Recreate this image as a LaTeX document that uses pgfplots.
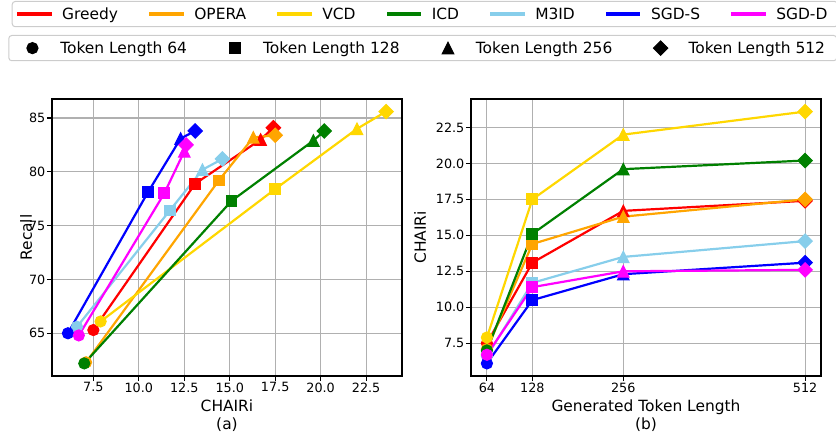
\documentclass[border=0pt]{standalone}
\usepackage{pgfplots}
\usepackage{pgfplotstable}
\pgfplotsset{compat=1.18}
\usepackage{fontspec}
\setmainfont{DejaVu Sans}
\definecolor{cGreedy}{HTML}{FF0000}
\definecolor{cOPERA}{HTML}{FFA500}
\definecolor{cVCD}{HTML}{FFD700}
\definecolor{cICD}{HTML}{008000}
\definecolor{cMID}{HTML}{87CEEB}
\definecolor{cSGDS}{HTML}{0000FF}
\definecolor{cSGDD}{HTML}{FF00FF}
\definecolor{gridc}{HTML}{B0B0B0}
\definecolor{legframe}{HTML}{CCCCCC}

\pgfdeclareplotmark{mtri}{%
  \pgfpathmoveto{\pgfqpoint{0pt}{\pgfplotmarksize}}%
  \pgfpathlineto{\pgfqpoint{\pgfplotmarksize}{-\pgfplotmarksize}}%
  \pgfpathlineto{\pgfqpoint{-\pgfplotmarksize}{-\pgfplotmarksize}}%
  \pgfpathclose\pgfusepathqfillstroke}
\pgfdeclareplotmark{mdia}{%
  \pgfpathmoveto{\pgfqpoint{0pt}{\pgfplotmarksize}}%
  \pgfpathlineto{\pgfqpoint{\pgfplotmarksize}{0pt}}%
  \pgfpathlineto{\pgfqpoint{0pt}{-\pgfplotmarksize}}%
  \pgfpathlineto{\pgfqpoint{-\pgfplotmarksize}{0pt}}%
  \pgfpathclose\pgfusepathqfillstroke}

% columns: generated token length, CHAIRi, Recall, marker class
\pgfplotstableread{
len chair recall cls
64  7.5  65.3 a
128 13.1 78.9 b
256 16.7 83.0 c
512 17.4 84.1 d
}\tGreedy
\pgfplotstableread{
len chair recall cls
64  7.1  62.3 a
128 14.4 79.2 b
256 16.3 83.2 c
512 17.5 83.4 d
}\tOPERA
\pgfplotstableread{
len chair recall cls
64  7.9  66.1 a
128 17.5 78.4 b
256 22.0 84.0 c
512 23.6 85.6 d
}\tVCD
\pgfplotstableread{
len chair recall cls
64  7.0  62.2 a
128 15.1 77.3 b
256 19.6 82.9 c
512 20.2 83.8 d
}\tICD
\pgfplotstableread{
len chair recall cls
64  6.6  65.6 a
128 11.7 76.4 b
256 13.5 80.2 c
512 14.6 81.2 d
}\tMID
\pgfplotstableread{
len chair recall cls
64  6.1  65.0 a
128 10.5 78.1 b
256 12.3 83.1 c
512 13.1 83.8 d
}\tSGDS
\pgfplotstableread{
len chair recall cls
64  6.7  64.8 a
128 11.4 78.0 b
256 12.5 81.9 c
512 12.6 82.5 d
}\tSGDD

\pgfplotsset{
  meth/.style={color=#1, line width=2.2bp, forget plot, scatter,
    point meta=explicit symbolic,
    mark options={line width=1bp, solid, fill=#1, draw=#1},
    scatter/classes={
      a={mark=*, mark size=5.6bp, #1},
      b={mark=square*, mark size=5.4bp, #1},
      c={mark=mtri, mark size=5.8bp, #1},
      d={mark=mdia, mark size=7.2bp, #1}}},
  myax/.style={
    scale only axis, width=350bp, height=277bp,
    axis line style={line width=1.2bp, black},
    grid=major, grid style={line width=1.1bp, color=gridc},
    tick align=outside, major tick length=5bp,
    tick style={line width=1.1bp, black},
    xtick pos=left, ytick pos=left,
    ticklabel style={font=\fontsize{12.8}{15}\selectfont},
    xticklabel style={inner sep=1.5bp},
    yticklabel style={inner sep=1.5bp},
    label style={font=\fontsize{15.5}{18.6}\selectfont},
    /pgf/number format/assume math mode=true,
    legend cell align=left,
  },
  legbase/.style={
    draw=legframe, line width=1bp, rounded corners=3bp, fill=white,
    font=\fontsize{15.5}{18.6}\selectfont,
    inner xsep=5bp, inner ysep=4bp,
    nodes={inner xsep=5.2bp, inner ysep=2bp},
    /tikz/every odd column/.append style={column sep=5.5bp},
    /tikz/every even column/.append style={column sep=26bp},
  },
}

\begin{document}
\begin{tikzpicture}
\begin{axis}[myax,
  at={(52bp,56bp)}, anchor=south west,
  xmin=5.225, xmax=24.475, ymin=61.03, ymax=86.77,
  xtick={7.5,10,12.5,15,17.5,20,22.5},
  ytick={65,70,75,80,85},
  xticklabel style={/pgf/number format/.cd, fixed, fixed zerofill, precision=1},
  yticklabel style={/pgf/number format/.cd, fixed, precision=0},
  xlabel={CHAIRi\\(a)},
  xlabel style={at={(axis description cs:0.5,-0.0848)}, anchor=north, align=center, inner sep=0pt},
  ylabel={Recall},
  ylabel style={at={(axis description cs:-0.0743,0.5)}, anchor=center, inner sep=0pt},
  legend columns=7,
  legend image code/.code={\draw[#1, line width=3.3bp, line cap=rect, sharp corners] (0bp,0bp) -- (31bp,0bp);},
  legend style={legbase, at={(axis description cs:-0.11514,1.35380)}, anchor=north west},
]
\addplot[meth=cGreedy] table[x=chair, y=recall, meta=cls] {\tGreedy};
\addplot[meth=cOPERA] table[x=chair, y=recall, meta=cls] {\tOPERA};
\addplot[meth=cVCD] table[x=chair, y=recall, meta=cls] {\tVCD};
\addplot[meth=cICD] table[x=chair, y=recall, meta=cls] {\tICD};
\addplot[meth=cMID] table[x=chair, y=recall, meta=cls] {\tMID};
\addplot[meth=cSGDS] table[x=chair, y=recall, meta=cls] {\tSGDS};
\addplot[meth=cSGDD] table[x=chair, y=recall, meta=cls] {\tSGDD};
\addlegendimage{color=cGreedy}\addlegendentry{Greedy}
\addlegendimage{color=cOPERA}\addlegendentry{OPERA}
\addlegendimage{color=cVCD}\addlegendentry{VCD}
\addlegendimage{color=cICD}\addlegendentry{ICD}
\addlegendimage{color=cMID}\addlegendentry{M3ID}
\addlegendimage{color=cSGDS}\addlegendentry{SGD-S}
\addlegendimage{color=cSGDD}\addlegendentry{SGD-D}
\end{axis}

\begin{axis}[myax,
  at={(471bp,56bp)}, anchor=south west,
  xmin=41.6, xmax=534.4, ymin=5.225, ymax=24.475,
  xtick={64,128,256,512},
  ytick={7.5,10,12.5,15,17.5,20,22.5},
  yticklabel style={/pgf/number format/.cd, fixed, fixed zerofill, precision=1},
  xlabel={Generated Token Length\\(b)},
  xlabel style={at={(axis description cs:0.5,-0.0848)}, anchor=north, align=center, inner sep=0pt},
  ylabel={CHAIRi},
  ylabel style={at={(axis description cs:-0.1457,0.5)}, anchor=center, inner sep=0pt},
  legend columns=4,
  legend image code/.code={\path[draw=none, fill=none] (-1.65bp,0bp) -- (32.65bp,0bp); \path[sharp corners, line width=1bp, #1, draw=black, fill=black] plot[only marks] coordinates {(15.5bp,0bp)};},
  legend style={legbase, inner xsep=6.5bp, at={(axis description cs:-1.32200,1.23105)}, anchor=north west},
]
\addplot[meth=cGreedy] table[x=len, y=chair, meta=cls] {\tGreedy};
\addplot[meth=cOPERA] table[x=len, y=chair, meta=cls] {\tOPERA};
\addplot[meth=cVCD] table[x=len, y=chair, meta=cls] {\tVCD};
\addplot[meth=cICD] table[x=len, y=chair, meta=cls] {\tICD};
\addplot[meth=cMID] table[x=len, y=chair, meta=cls] {\tMID};
\addplot[meth=cSGDS] table[x=len, y=chair, meta=cls] {\tSGDS};
\addplot[meth=cSGDD] table[x=len, y=chair, meta=cls] {\tSGDD};
\addlegendimage{mark=*, mark size=5.6bp}\addlegendentry{Token Length 64}
\addlegendimage{mark=square*, mark size=5.4bp}\addlegendentry{Token Length 128}
\addlegendimage{mark=mtri, mark size=5.8bp}\addlegendentry{Token Length 256}
\addlegendimage{mark=mdia, mark size=7.2bp}\addlegendentry{Token Length 512}
\end{axis}
\pgfresetboundingbox
\useasboundingbox (0bp,0bp) rectangle (836bp,432bp);
\end{tikzpicture}
\end{document}
